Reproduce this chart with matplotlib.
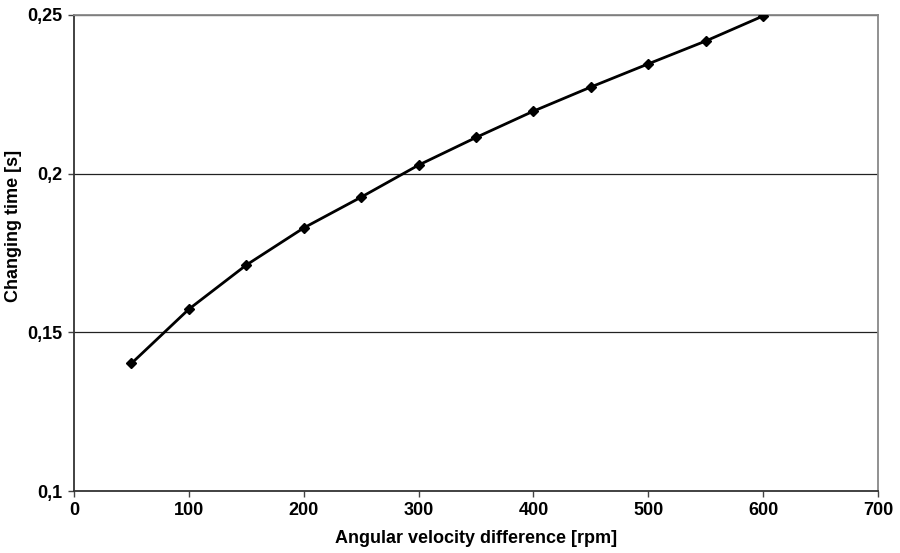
import matplotlib
matplotlib.use('Agg')
import matplotlib.pyplot as plt
from matplotlib.ticker import FuncFormatter

# angular velocity difference [rpm] and changing time [s]
rpm = [50, 100, 150, 200, 250, 300, 350, 400, 450, 500, 550, 600]
t_change = [0.1402, 0.1573, 0.1712, 0.1829, 0.1926, 0.2027, 0.2114, 0.2197,
            0.2273, 0.2346, 0.2418, 0.2497]

x_ticks = [0, 100, 200, 300, 400, 500, 600, 700]
y_ticks = [0.1, 0.15, 0.2, 0.25]

plt.rcParams['font.family'] = ['Liberation Sans', 'DejaVu Sans']

fig = plt.figure(figsize=(9, 5.53), dpi=100)
ax = fig.add_axes([0.0822, 0.1121, 0.8934, 0.8608])

for y in y_ticks[1:]:
    ax.axhline(y, color='#222222', lw=0.9, zorder=1)

ax.plot(rpm, t_change, color='black', lw=2, marker='D', ms=5,
        markerfacecolor='black', zorder=3)

ax.set_xlim(0, 700)
ax.set_ylim(0.1, 0.25)
ax.set_xticks(x_ticks)
ax.set_yticks(y_ticks)


def comma(v, pos):
    s = ('%.2f' % v).rstrip('0').rstrip('.')
    return s.replace('.', ',')


ax.yaxis.set_major_formatter(FuncFormatter(comma))
ax.tick_params(axis='both', labelsize=13, length=4, width=1, color='#444444', pad=4)
for lbl in ax.get_xticklabels() + ax.get_yticklabels():
    lbl.set_fontweight('bold')

for side in ['left', 'bottom']:
    ax.spines[side].set_color('#333333')
    ax.spines[side].set_linewidth(1.3)
for side in ['top', 'right']:
    ax.spines[side].set_color('#888888')
    ax.spines[side].set_linewidth(1.3)

ax.set_xlabel('Angular velocity difference [rpm]', fontsize=13, fontweight='bold', labelpad=8)
ax.set_ylabel('Changing time [s]', fontsize=13, fontweight='bold')
ax.yaxis.set_label_coords(-0.0645, 0.557)

fig.savefig('out.png', dpi=100)
